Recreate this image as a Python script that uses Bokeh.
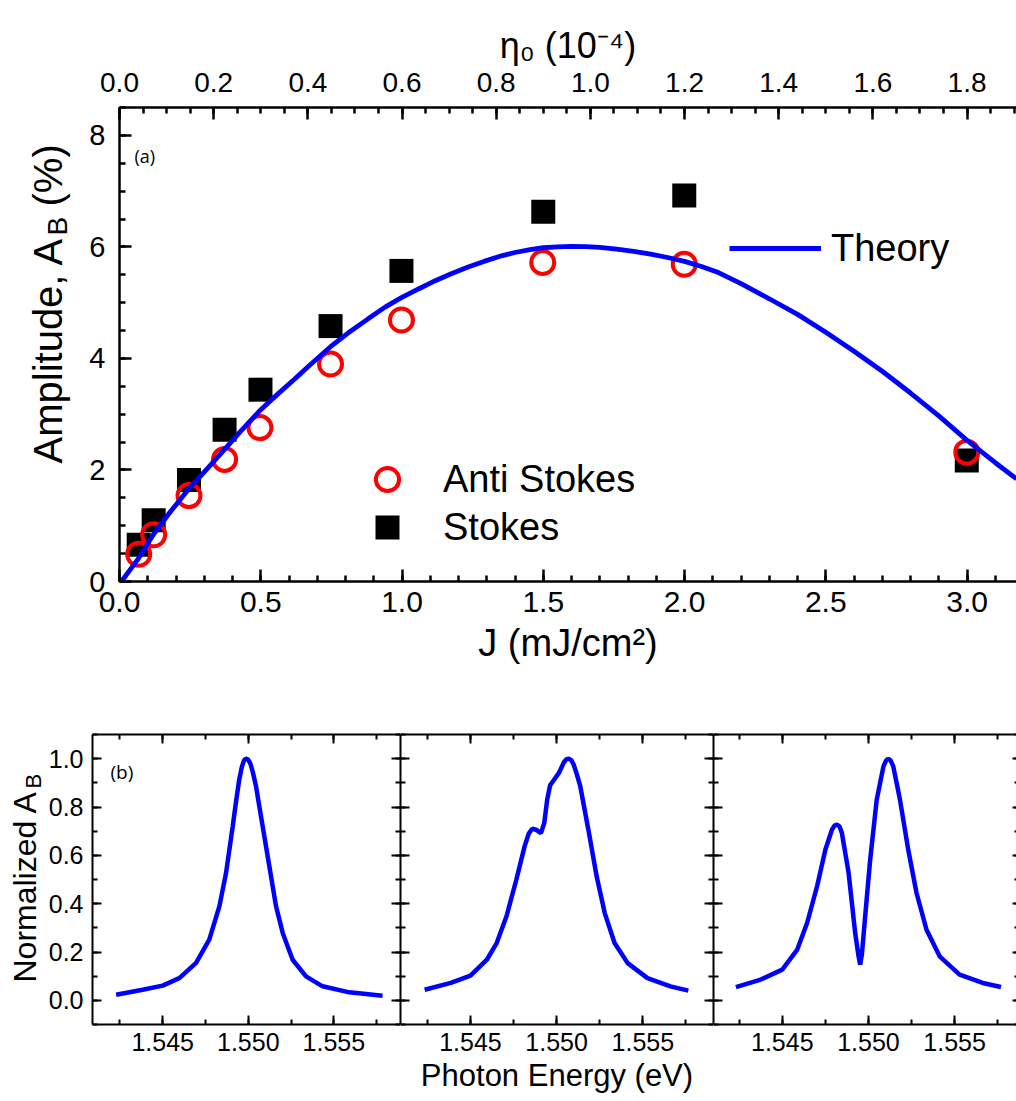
import math
from bokeh.plotting import figure
from bokeh.models import (Range1d, LinearAxis, FixedTicker, Legend, LegendItem, Label,
                          PrintfTickFormatter, CustomJSTickFormatter)
from bokeh.layouts import column, row
from bokeh.embed import file_html
from bokeh.resources import INLINE

# ---------------- data: panel (a) ----------------
J_anti = [0.068, 0.121, 0.246, 0.372, 0.497, 0.747, 0.998, 1.498, 1.999, 2.999]
A_anti = [0.49, 0.84, 1.54, 2.19, 2.76, 3.90, 4.69, 5.72, 5.69, 2.32]
J_stokes = [0.068, 0.121, 0.246, 0.372, 0.499, 0.747, 0.998, 1.500, 1.999, 2.999]
A_stokes = [0.66, 1.10, 1.82, 2.72, 3.44, 4.58, 5.57, 6.63, 6.92, 2.17]
J_theory = [0.007, 0.068, 0.121, 0.18, 0.245, 0.31, 0.372, 0.43, 0.496, 0.56, 0.62, 0.68,
            0.747, 0.81, 0.88, 0.94, 0.998, 1.06, 1.116, 1.17, 1.234, 1.29, 1.352, 1.40,
            1.453, 1.50, 1.55, 1.60, 1.65, 1.70, 1.76, 1.82, 1.88, 1.94, 2.0, 2.06, 2.12,
            2.2, 2.3, 2.4, 2.5, 2.6, 2.7, 2.8, 2.9, 3.0, 3.1, 3.175]
A_theory = [0.0, 0.42, 0.85, 1.25, 1.66, 2.02, 2.37, 2.70, 3.06, 3.36, 3.63, 3.91,
            4.21, 4.46, 4.71, 4.92, 5.09, 5.25, 5.39, 5.51, 5.64, 5.74, 5.84, 5.90,
            5.95, 5.985, 6.0, 6.01, 6.005, 5.99, 5.96, 5.92, 5.87, 5.81, 5.74, 5.65, 5.54,
            5.34, 5.07, 4.79, 4.47, 4.13, 3.77, 3.38, 2.97, 2.53, 2.13, 1.84]
ETA_PER_J = 0.6          # eta_0 (1e-4) per J (mJ/cm^2)

J_ticks = [0.0, 0.5, 1.0, 1.5, 2.0, 2.5, 3.0]
J_minor = [i / 10 for i in range(0, 32)]
eta_ticks = [0.0, 0.2, 0.4, 0.6, 0.8, 1.0, 1.2, 1.4, 1.6, 1.8]
eta_minor = [i / 20 for i in range(0, 39)]
A_ticks = [0, 2, 4, 6, 8]
A_minor = [i / 2 for i in range(0, 18)]

# ---------------- data: panel (b) ----------------
E1 = [1.54228, 1.54383, 1.545, 1.54597, 1.54695, 1.54772, 1.54831, 1.5487, 1.54909,
      1.54928, 1.54947, 1.54962, 1.54975, 1.54986, 1.54998, 1.55012, 1.55028, 1.55045,
      1.55065, 1.55084, 1.55123, 1.55162, 1.55201, 1.55259, 1.55337, 1.55434, 1.5559,
      1.55784]
N1 = [0.023, 0.044, 0.061, 0.092, 0.155, 0.251, 0.389, 0.527, 0.72,
      0.82, 0.913, 0.965, 0.993, 1.0, 0.997, 0.98, 0.94, 0.886,
      0.80, 0.72, 0.554, 0.389, 0.279, 0.168, 0.099, 0.058, 0.033,
      0.019]
E2 = [1.54234, 1.54386, 1.545, 1.54595, 1.54652, 1.54709, 1.54766, 1.54814, 1.54838,
      1.54858, 1.5488, 1.54909, 1.54928, 1.54945, 1.54962, 1.54985, 1.55013, 1.55042,
      1.55057, 1.5507, 1.55085, 1.55099, 1.55115, 1.55137, 1.55184, 1.55232, 1.55279,
      1.55336, 1.55412, 1.55527, 1.5566, 1.55764]
N2 = [0.044, 0.072, 0.102, 0.168, 0.237, 0.348, 0.499, 0.637, 0.69,
      0.71, 0.706, 0.692, 0.734, 0.83, 0.89, 0.913, 0.941, 0.985,
      0.998, 1.0, 0.994, 0.975, 0.94, 0.886, 0.706, 0.513, 0.361,
      0.237, 0.154, 0.092, 0.058, 0.040]
E3 = [1.54231, 1.54375, 1.545, 1.54587, 1.54644, 1.54702, 1.5475, 1.54788, 1.54803,
      1.54817, 1.54832, 1.54846, 1.54885, 1.54923, 1.54942, 1.54952, 1.54962, 1.54981,
      1.5501, 1.55048, 1.55087, 1.55102, 1.55115, 1.55129, 1.55144, 1.55183, 1.55231,
      1.55279, 1.55337, 1.55413, 1.55529, 1.55663, 1.55769]
N3 = [0.055, 0.086, 0.127, 0.210, 0.320, 0.472, 0.623, 0.706, 0.723,
      0.727, 0.72, 0.692, 0.527, 0.279, 0.185, 0.148, 0.19, 0.348,
      0.582, 0.830, 0.968, 0.992, 1.0, 0.992, 0.968, 0.830, 0.623,
      0.444, 0.292, 0.182, 0.106, 0.072, 0.055]

E_ticks = [1.545, 1.550, 1.555]
E_minor = [1.5425, 1.545, 1.5475, 1.55, 1.5525, 1.555, 1.5575]
N_ticks = [0.0, 0.2, 0.4, 0.6, 0.8, 1.0]
N_minor = [round(-0.1 + 0.1 * i, 2) for i in range(0, 13)]

FONT = "Liberation Sans"
BLUE = "#0000ff"
RED = "#ff0000"


def style_axis(ax, lw, maj_in, min_in):
    ax.axis_line_width = lw
    ax.axis_line_color = "black"
    ax.major_tick_in = maj_in
    ax.major_tick_out = 0
    ax.minor_tick_in = min_in
    ax.minor_tick_out = 0
    ax.major_tick_line_width = lw
    ax.minor_tick_line_width = lw
    ax.major_tick_line_color = "black"
    ax.minor_tick_line_color = "black"
    ax.major_label_text_color = "black"
    ax.axis_label_text_color = "black"
    ax.axis_label_text_font_style = "normal"


def blank(ax):
    ax.formatter = CustomJSTickFormatter(code="return ''")
    ax.major_label_text_font_size = "0px"
    ax.major_label_standoff = 0


def text_fig(width, height):
    f = figure(width=width, height=height, x_range=Range1d(0, 1), y_range=Range1d(0, 1),
               x_axis_location=None, y_axis_location=None, output_backend="svg",
               toolbar_location=None, min_border_left=0, min_border_right=0,
               min_border_top=0, min_border_bottom=0)
    f.outline_line_color = None
    f.grid.visible = False
    return f


def vlabel(fig, x, y, text, size):
    # x: centre line of the (rotated) text; y: start, both from the frame's bottom-left
    fig.add_layout(Label(x=x, y=y, x_units="screen", y_units="screen", text=text,
                         angle=math.pi / 2, text_font=FONT, text_font_size=size,
                         text_color="black", text_baseline="middle", text_align="left"))


# ================= panel (a) =================
J_MAX = 3.175
p = figure(width=942, height=700, x_range=Range1d(0, J_MAX), y_range=Range1d(0, 8.5),
           output_backend="svg", toolbar_location=None,
           min_border_left=45, min_border_right=0, min_border_top=107, min_border_bottom=119)
p.outline_line_color = None
p.grid.visible = False

xa = p.xaxis[0]
xa.ticker = FixedTicker(ticks=J_ticks, minor_ticks=J_minor)
xa.formatter = PrintfTickFormatter(format="%.1f")
style_axis(xa, 2.5, 12, 6)
xa.major_label_text_font = FONT
xa.major_label_text_font_size = "30px"
xa.major_label_standoff = 10
xa.axis_label = "J (mJ/cm²)"
xa.axis_label_text_font = FONT
xa.axis_label_text_font_size = "38px"
xa.axis_label_standoff = 7

ya = p.yaxis[0]
ya.ticker = FixedTicker(ticks=A_ticks, minor_ticks=A_minor)
ya.formatter = PrintfTickFormatter(format="%d")
style_axis(ya, 2.5, 12, 6)
ya.major_label_text_font = FONT
ya.major_label_text_font_size = "29px"
ya.major_label_standoff = 14

p.extra_x_ranges = {"eta": Range1d(0, J_MAX * ETA_PER_J)}
ta = LinearAxis(x_range_name="eta", ticker=FixedTicker(ticks=eta_ticks, minor_ticks=eta_minor),
                formatter=PrintfTickFormatter(format="%.1f"))
style_axis(ta, 2.5, 12, 6)
ta.major_label_text_font = FONT
ta.major_label_text_font_size = "28px"
ta.major_label_standoff = 16
ta.axis_label = "η₀ (10⁻⁴)"
ta.axis_label_text_font = FONT
ta.axis_label_text_font_size = "36px"
ta.axis_label_standoff = 4
p.add_layout(ta, "above")

r_sq = p.scatter(J_stokes, A_stokes, marker="square", size=24, fill_color="black",
                 line_color="black", line_width=0)
r_ci = p.scatter(J_anti, A_anti, marker="circle", size=23, fill_color=None,
                 line_color=RED, line_width=4)
r_th = p.line(J_theory, A_theory, line_width=4.8, line_color=BLUE)


def make_legend(item, loc, gw, gh, standoff):
    return Legend(items=[item], location=loc, glyph_width=gw, glyph_height=gh,
                  label_height=gh, label_standoff=standoff, padding=0, margin=0, spacing=0,
                  border_line_alpha=0, background_fill_alpha=0, label_text_color="black",
                  label_text_font=FONT, label_text_font_size="38px")


p.add_layout(make_legend(LegendItem(label="Theory", renderers=[r_th]), (610, 311), 92, 44, 10))
p.add_layout(make_legend(LegendItem(label="Anti Stokes", renderers=[r_ci]), (239, 73), 58, 58, 27))
p.add_layout(make_legend(LegendItem(label="Stokes", renderers=[r_sq]), (238, 24), 60, 60, 26))

p.add_layout(Label(x=15, y=426, x_units="screen", y_units="screen", text="(a)", text_color="black",
                   text_font="Open Sans", text_font_size="18px", text_baseline="middle"))

# y-axis title of (a): its own narrow figure, frame aligned with p's frame (bottom at y=581)
ylab_a = text_fig(74, 700)
vlabel(ylab_a, 47, 118, "Amplitude, A", "40px")
vlabel(ylab_a, 57, 346, "B", "28px")
vlabel(ylab_a, 47, 375, "(%)", "40px")


# ================= panel (b) =================
def panel(width, x0, x1, E, N, left_border, left_labels, right_kind, xlabel=None):
    b = figure(width=width, height=401, x_range=Range1d(x0, x1), y_range=Range1d(-0.1, 1.1),
               output_backend="svg", toolbar_location=None,
               min_border_left=left_border, min_border_right=0,
               min_border_top=34, min_border_bottom=77)
    b.outline_line_color = None
    b.grid.visible = False
    bx = b.xaxis[0]
    bx.ticker = FixedTicker(ticks=E_ticks, minor_ticks=E_minor)
    bx.formatter = PrintfTickFormatter(format="%.3f")
    style_axis(bx, 2, 9, 5)
    bx.major_label_text_font = FONT
    bx.major_label_text_font_size = "25px"
    bx.major_label_standoff = 8
    if xlabel:
        bx.axis_label = xlabel
        bx.axis_label_text_font = FONT
        bx.axis_label_text_font_size = "31px"
        bx.axis_label_standoff = 4
    by = b.yaxis[0]
    by.ticker = FixedTicker(ticks=N_ticks, minor_ticks=N_minor)
    by.formatter = PrintfTickFormatter(format="%.1f")
    style_axis(by, 2, 9, 5)
    by.major_label_text_font = FONT
    by.major_label_text_font_size = "25px"
    by.major_label_standoff = 9
    if not left_labels:
        blank(by)
    tx = LinearAxis(ticker=FixedTicker(ticks=E_ticks, minor_ticks=E_minor))
    style_axis(tx, 2, 9, 5)
    blank(tx)
    b.add_layout(tx, "above")
    ry = LinearAxis(ticker=FixedTicker(ticks=N_ticks, minor_ticks=N_minor))
    if right_kind == "full":
        style_axis(ry, 2, 9, 5)
    else:
        style_axis(ry, 2, 4, 2)
        ry.axis_line_color = None
    blank(ry)
    b.add_layout(ry, "right")
    b.line(E, N, line_width=4.5, line_color=BLUE)
    return b


b1 = panel(355, 1.5409, 1.55889, E1, N1, 45, True, "full")
b2 = panel(313, 1.54094, 1.5591, E2, N2, 0, False, "full", "Photon Energy (eV)")
b3 = panel(303, 1.54101, 1.55859, E3, N3, 0, False, "edge")

b1.add_layout(Label(x=18, y=253, x_units="screen", y_units="screen", text="(b)", text_color="black",
                    text_font="Open Sans", text_font_size="19px", text_baseline="middle"))

# y-axis title of (b): frame aligned with the panels' frames (bottom at y=1024)
ylab_b = text_fig(45, 401)
vlabel(ylab_b, 24, 42, "Normalized A", "32px")
vlabel(ylab_b, 33, 236, "B", "22px")

layout = column(row(ylab_a, p), row(ylab_b, b1, b2, b3))
open("out.html", "w").write(file_html(layout, INLINE))
